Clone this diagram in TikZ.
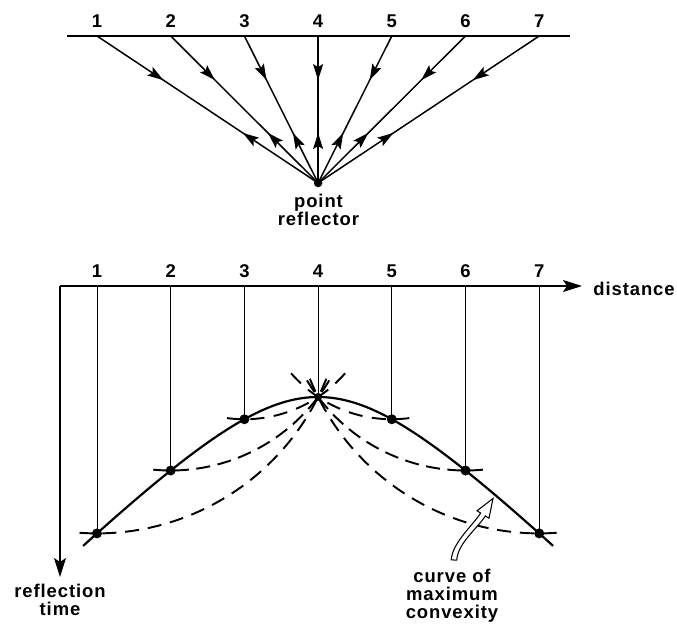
\documentclass[tikz,border=0pt]{standalone}
\usepackage{fontspec}
\setmainfont{Liberation Sans}[LetterSpace=5]
\usetikzlibrary{arrows.meta,decorations.markings}

\begin{document}
\begin{tikzpicture}[
  lbl/.style={font=\bfseries\fontsize{10.5}{10}\selectfont, inner sep=0pt},
  ray/.style={line width=0.85pt, postaction={decorate}, decoration={markings,
    mark=at position 0.3 with {\arrow{Stealth[length=3.2mm,width=2mm,inset=0.6mm]}},
    mark=at position 0.66 with {\arrowreversed{Stealth[length=3.2mm,width=2mm,inset=0.6mm]}}}},
  axis/.style={line width=0.75pt, -{Stealth[length=3.8mm,width=2.4mm,inset=0.8mm]}},
  trace/.style={line width=0.55pt},
  wavefront/.style={line width=1.1pt, dash pattern=on 8pt off #1}
]
\useasboundingbox (0,0) rectangle (13.54,12.46);

% rays from the stations down to the point reflector
\draw[line width=0.8pt] (1.34,11.74) -- (11.40,11.74);
\coordinate (s1) at (1.94,11.74);
\coordinate (s2) at (3.414,11.74);
\coordinate (s3) at (4.888,11.74);
\coordinate (s4) at (6.362,11.74);
\coordinate (s5) at (7.836,11.74);
\coordinate (s6) at (9.31,11.74);
\coordinate (s7) at (10.784,11.74);
\coordinate (r) at (6.362,8.80);
\draw[ray] (s1) -- (r);
\draw[ray] (s2) -- (r);
\draw[ray] (s3) -- (r);
\draw[ray] (s4) -- (r);
\draw[ray] (s5) -- (r);
\draw[ray] (s6) -- (r);
\draw[ray] (s7) -- (r);
\fill (r) circle (0.085);
\node[lbl, anchor=base] (t1) at (1.94,11.91) {1};
\node[lbl, anchor=base] (t2) at (3.414,11.91) {2};
\node[lbl, anchor=base] (t3) at (4.888,11.91) {3};
\node[lbl, anchor=base] (t4) at (6.362,11.91) {4};
\node[lbl, anchor=base] (t5) at (7.836,11.91) {5};
\node[lbl, anchor=base] (t6) at (9.31,11.91) {6};
\node[lbl, anchor=base] (t7) at (10.784,11.91) {7};
\node[lbl, anchor=base, align=center] (refl) at (6.37,7.96) {point\\reflector};

% time section
\coordinate (o) at (1.2,6.74);
\coordinate (xend) at (11.64,6.74);
\coordinate (yend) at (1.2,0.92);
\draw[axis] (o) -- (xend);
\draw[axis] (o) -- (yend);
\node[lbl, anchor=base west] (dist) at (11.86,6.56) {distance};
\node[lbl, anchor=base, align=center] (rtime) at (1.2,0.16) {reflection\\time};

\coordinate (b1) at (1.94,6.74);
\coordinate (b2) at (3.414,6.74);
\coordinate (b3) at (4.888,6.74);
\coordinate (b4) at (6.362,6.74);
\coordinate (b5) at (7.836,6.74);
\coordinate (b6) at (9.31,6.74);
\coordinate (b7) at (10.784,6.74);
\coordinate (d1) at (1.94,1.792);
\coordinate (d2) at (3.414,3.05);
\coordinate (d3) at (4.888,4.075);
\coordinate (apex) at (6.362,4.52);
\coordinate (d5) at (7.836,4.075);
\coordinate (d6) at (9.31,3.05);
\coordinate (d7) at (10.784,1.792);
\node[lbl, anchor=base] (n1) at (1.94,6.92) {1};
\node[lbl, anchor=base] (n2) at (3.414,6.92) {2};
\node[lbl, anchor=base] (n3) at (4.888,6.92) {3};
\node[lbl, anchor=base] (n4) at (6.362,6.92) {4};
\node[lbl, anchor=base] (n5) at (7.836,6.92) {5};
\node[lbl, anchor=base] (n6) at (9.31,6.92) {6};
\node[lbl, anchor=base] (n7) at (10.784,6.92) {7};

\draw[trace] (b1) -- (d1);
\draw[trace] (b2) -- (d2);
\draw[trace] (b3) -- (d3);
\draw[trace] (b4) -- (apex);
\draw[trace] (b5) -- (d5);
\draw[trace] (b6) -- (d6);
\draw[trace] (b7) -- (d7);

% curve of maximum convexity
\draw[line width=1.25pt] plot[domain=-4.7:4.7, samples=80, smooth]
  ({6.362+\x},{6.74-sqrt(4.9284+\x*\x)});

% wavefronts
\draw[wavefront=5pt] ([shift={(-94.05:4.948)}]b1) arc[start angle=-94.05, end angle=-22.03, radius=4.948];
\draw[wavefront=4.28pt] ([shift={(-95.43:3.69)}]b2) arc[start angle=-95.43, end angle=-30.77, radius=3.69];
\draw[wavefront=5.38pt] ([shift={(-97.52:2.665)}]b3) arc[start angle=-97.52, end angle=-40.94, radius=2.665];
\draw[wavefront=5.38pt] ([shift={(-82.48:2.665)}]b5) arc[start angle=-82.48, end angle=-139.06, radius=2.665];
\draw[wavefront=4.28pt] ([shift={(-84.57:3.69)}]b6) arc[start angle=-84.57, end angle=-149.23, radius=3.69];
\draw[wavefront=5pt] ([shift={(-85.95:4.948)}]b7) arc[start angle=-85.95, end angle=-157.97, radius=4.948];

\fill (d1) circle (0.1);
\fill (d2) circle (0.1);
\fill (d3) circle (0.1);
\fill (apex) circle (0.08);
\fill (d5) circle (0.1);
\fill (d6) circle (0.1);
\fill (d7) circle (0.1);

% hollow pointer
\filldraw[fill=white, line width=0.6pt] (9.025,1.263) -- (9.135,1.257)
  .. controls (9.155,1.597) and (9.547,1.891) .. (9.707,2.141)
  -- (9.78,2.096) -- (9.86,2.49) -- (9.54,2.244) -- (9.613,2.199)
  .. controls (9.453,1.949) and (9.045,1.603) .. (9.025,1.263) -- cycle;
\node[lbl, anchor=base, align=center] (conv) at (9.04,0.10) {curve of\\maximum\\convexity};
\end{tikzpicture}
\end{document}
